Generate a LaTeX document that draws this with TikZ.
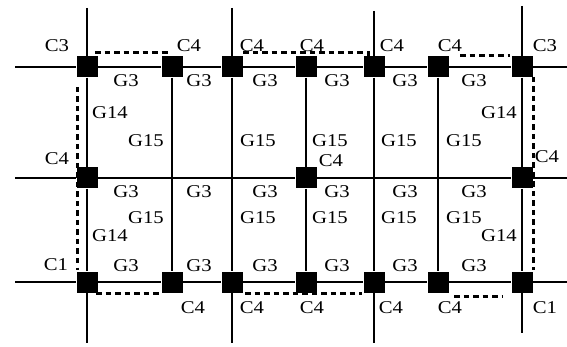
\documentclass[tikz,border=0pt]{standalone}
\usepackage{fontspec}
\setmainfont{Liberation Serif}
\newfontfamily\lblfont[FakeStretch=1.15]{Liberation Serif}
\usetikzlibrary{positioning}
\tikzset{
  gcell/.style ={rectangle, fill=black, draw=none, minimum size=21pt, inner sep=0pt},
  gwire/.style ={line width=1.4pt, black},
  groute/.style={line width=3pt, black, dash pattern=on 5.5pt off 4pt},
  glabel/.style={font=\lblfont\fontsize{18}{18}\selectfont, inner sep=0pt},
}

\begin{document}
\begin{tikzpicture}[x=1pt, y=-1pt]
  \useasboundingbox (0,0) rectangle (567,347);
  % free ends of the wires
  \foreach \r/\y in {1/67,2/178,3/282} {
    \coordinate (l\r) at (15,\y);
    \coordinate (r\r) at (567,\y);
  }
  \foreach \c/\x/\ya/\yb in {1/87/8/343,3/232/8/343,5/374/11/343,7/522/6/333} {
    \coordinate (u\c) at (\x,\ya);
    \coordinate (d\c) at (\x,\yb);
  }
  % dotted route
  \draw[groute] (95,53) -- (166,53) -- (166,57);
  \draw[groute] (243,53) -- (368,53) -- (368,57);
  \draw[groute] (460,56) -- (510,56);
  \draw[groute] (77,87) -- (77,270);
  \draw[groute] (533,77) -- (533,270);
  \draw[groute] (96,293) -- (161,293);
  \draw[groute] (245,293) -- (362,293);
  \draw[groute] (454,296) -- (503,296);
  % cells
  \foreach \c/\x in {1/87,2/172,3/232,4/306,5/374,6/438,7/522} {
    \node[gcell] (t\c) at (\x,67) {};
    \node[gcell] (b\c) at (\x,282) {};
  }
  \foreach \c/\x in {1/87,4/306,7/522} {
    \node[gcell] (m\c) at (\x,178) {};
  }
  % wires
  \draw[gwire] (l1) -- (t1) -- (t2) -- (t3) -- (t4) -- (t5) -- (t6) -- (t7) -- (r1);
  \draw[gwire] (l2) -- (m1) -- (m4) -- (m7) -- (r2);
  \draw[gwire] (l3) -- (b1) -- (b2) -- (b3) -- (b4) -- (b5) -- (b6) -- (b7) -- (r3);
  \draw[gwire] (u1) -- (t1) -- (m1) -- (b1) -- (d1);
  \draw[gwire] (t2) -- (b2);
  \draw[gwire] (u3) -- (t3) -- (b3) -- (d3);
  \draw[gwire] (t4) -- (m4) -- (b4);
  \draw[gwire] (u5) -- (t5) -- (b5) -- (d5);
  \draw[gwire] (t6) -- (b6);
  \draw[gwire] (u7) -- (t7) -- (m7) -- (b7) -- (d7);
  % labels
  \foreach \n/\x/\y/\t in {a1/57/46/C3, a2/189/46/C4, a3/252/46/C4, a4/312/46/C4,
      a5/392/46/C4, a6/450/46/C4, a7/545/46/C3,
      c1/57/159/C4, c4/331/161/C4, c7/547/157/C4,
      e1/56/265/C1, e2/193/308/C4, e3/252/308/C4, e4/312/308/C4,
      e5/391/308/C4, e6/450/308/C4, e7/545/308/C1,
      k1/110/113/G14, k2/499/113/G14, k3/110/236/G14, k4/499/236/G14} {
    \node[glabel] (\n) at (\x,\y) {\t};
  }
  \foreach \i/\x in {1/126,2/199,3/265,4/337,5/405,6/474} {
    \node[glabel] (ga\i) at (\x,81) {G3};
    \node[glabel] (gb\i) at (\x,192) {G3};
    \node[glabel] (gc\i) at (\x,266) {G3};
  }
  \foreach \i/\x in {1/146,2/258,3/330,4/399,5/464} {
    \node[glabel] (fa\i) at (\x,141) {G15};
    \node[glabel] (fb\i) at (\x,218) {G15};
  }
\end{tikzpicture}
\end{document}
